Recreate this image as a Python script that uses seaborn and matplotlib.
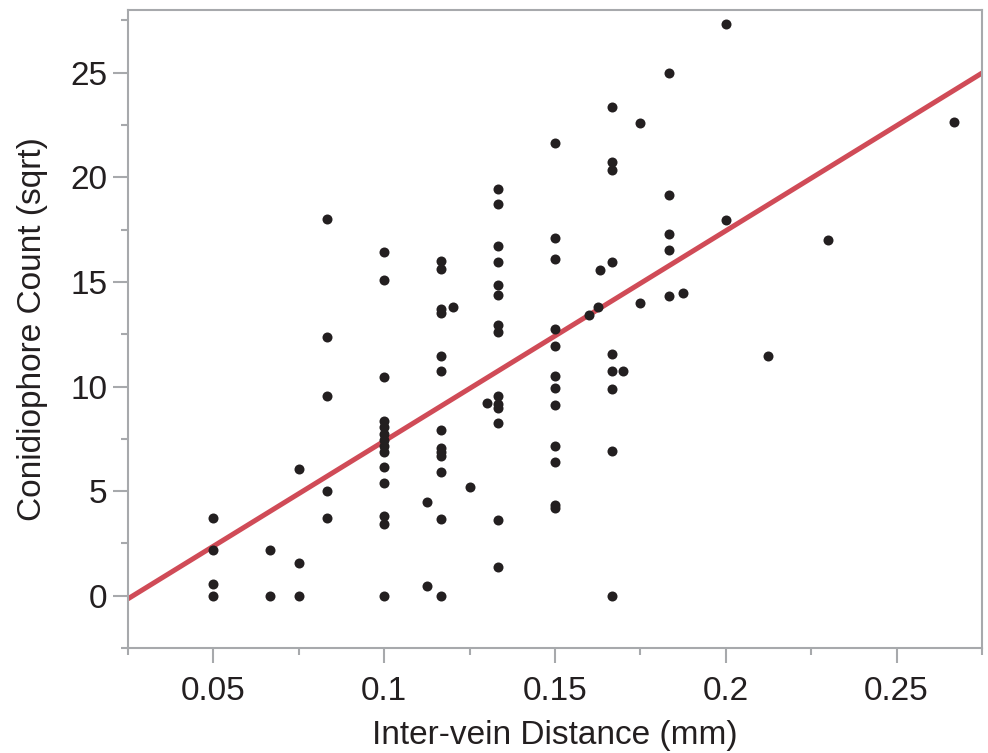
import matplotlib

matplotlib.use("Agg")
import matplotlib.pyplot as plt
import numpy as np
import pandas as pd
import seaborn as sns
from matplotlib.ticker import FuncFormatter, MultipleLocator

# inter-vein distance (mm), one entry per group of points sharing an x value
x_groups = [
    0.05, 0.0667, 0.075, 0.0833, 0.1, 0.1125, 0.1167, 0.12, 0.125, 0.13,
    0.1333, 0.15, 0.16, 0.1625, 0.1633, 0.1667, 0.17, 0.175, 0.1833,
    0.1875, 0.2, 0.2125, 0.23, 0.2667,
]
# conidiophore count (sqrt) for each group above
y_groups = [
    [3.7, 2.2, 0.55, 0.0],
    [2.2, 0.0],
    [6.05, 1.55, 0.0],
    [18.0, 12.35, 9.55, 5.0, 3.7],
    [16.45, 15.1, 10.45, 8.33, 8.05, 7.75, 7.45, 7.17, 6.85, 6.17, 5.4, 3.8, 3.43, 0.0],
    [4.46, 0.48],
    [16.0, 15.62, 13.7, 13.52, 11.47, 10.72, 7.92, 7.08, 6.88, 6.68, 5.9, 3.66, 0.0],
    [13.81],
    [5.18],
    [9.2],
    [19.43, 18.75, 16.7, 15.94, 14.86, 14.37, 12.95, 12.6, 9.55, 9.16, 8.97, 8.28, 3.63, 1.39],
    [21.66, 17.09, 16.09, 12.75, 11.93, 10.51, 9.92, 9.13, 7.17, 6.37, 4.35, 4.19],
    [13.42],
    [13.78],
    [15.56],
    [23.36, 20.75, 20.34, 15.95, 11.57, 10.72, 9.9, 6.9, 0.0],
    [10.72],
    [22.58, 13.98],
    [25.0, 19.16, 17.31, 16.53, 14.33],
    [14.48],
    [27.31, 17.95],
    [11.47],
    [16.99],
    [22.66],
]

df = pd.DataFrame(
    [(x, y) for x, ys in zip(x_groups, y_groups) for y in ys],
    columns=["distance", "count_sqrt"],
)

sns.set_theme(style="white")
plt.rcParams["font.family"] = ["Liberation Sans", "DejaVu Sans"]

ink = "#231f20"
frame = "#a7a9ac"

fig = plt.figure(figsize=(9.88, 7.53), dpi=100)
ax = fig.add_axes([0.1296, 0.1394, 0.8643, 0.8473])

ax.set_xlim(0.025, 0.275)
ax.set_ylim(-2.5, 28)

sns.scatterplot(data=df, x="distance", y="count_sqrt", color=ink, s=52,
                linewidth=0, ax=ax, zorder=3)
sns.regplot(data=df, x="distance", y="count_sqrt", scatter=False, ci=None,
            truncate=False, color="#d04b57", line_kws={"lw": 3.6}, ax=ax)

ax.set_xlim(0.025, 0.275)
ax.set_ylim(-2.5, 28)

ax.xaxis.set_major_locator(MultipleLocator(0.05))
ax.xaxis.set_minor_locator(MultipleLocator(0.025))
ax.yaxis.set_major_locator(MultipleLocator(5))
ax.yaxis.set_minor_locator(MultipleLocator(2.5))
ax.xaxis.set_major_formatter(FuncFormatter(lambda v, _: f"{v:g}"))

for side in ax.spines.values():
    side.set_color(frame)
    side.set_linewidth(1.5)

ax.tick_params(which="major", length=10.8, width=1.5, color=frame,
               labelsize=24, labelcolor=ink)
ax.tick_params(which="minor", length=5, width=1.5, color=frame)
ax.tick_params(axis="x", which="both", bottom=True, pad=9)
ax.tick_params(axis="y", which="both", left=True, pad=4)

ax.set_xlabel("Inter-vein Distance (mm)", fontsize=24, color=ink, labelpad=10)
ax.set_ylabel("Conidiophore Count (sqrt)", fontsize=24, color=ink, labelpad=16)

fig.savefig("out.png", dpi=100, facecolor="white")
